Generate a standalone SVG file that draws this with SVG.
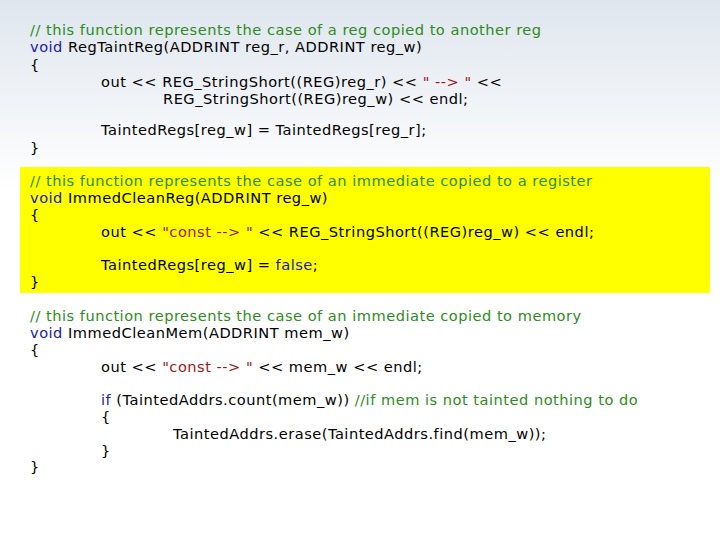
<svg xmlns="http://www.w3.org/2000/svg" width="720" height="540" viewBox="0 0 720 540">
<defs><linearGradient id="bg" x1="0" y1="0" x2="0" y2="1"><stop offset="0" stop-color="#dfe6ee"/><stop offset="0.35" stop-color="#ffffff"/><stop offset="1" stop-color="#ffffff"/></linearGradient></defs>
<style>
text{font-family:"DejaVu Sans",Verdana,sans-serif;font-size:14.6px;letter-spacing:0.5px;fill:#000}
.c{fill:#2e8b22}.k{fill:#1a1aa6}.s{fill:#a31515}
</style>
<rect width="720" height="540" fill="url(#bg)"/>
<rect x="20" y="167" width="690" height="126" fill="#ffff00"/>
<g id="code1">
<text x="30" y="35" class="c">// this function represents the case of a reg copied to another reg</text>
<text x="30" y="52"><tspan class="k">void</tspan> RegTaintReg(ADDRINT reg_r, ADDRINT reg_w)</text>
<text x="30" y="70">{</text>
<text x="101" y="87">out &lt;&lt; REG_StringShort((REG)reg_r) &lt;&lt; <tspan class="s">" --&gt; "</tspan> &lt;&lt;</text>
<text x="163" y="104">REG_StringShort((REG)reg_w) &lt;&lt; endl;</text>
<text x="101" y="135">TaintedRegs[reg_w] = TaintedRegs[reg_r];</text>
<text x="30" y="153">}</text>
</g>
<g id="code2">
<text x="30" y="186" class="c">// this function represents the case of an immediate copied to a register</text>
<text x="30" y="203"><tspan class="k">void</tspan> ImmedCleanReg(ADDRINT reg_w)</text>
<text x="30" y="220">{</text>
<text x="101" y="237">out &lt;&lt; <tspan class="s">"const --&gt; "</tspan> &lt;&lt; REG_StringShort((REG)reg_w) &lt;&lt; endl;</text>
<text x="101" y="270">TaintedRegs[reg_w] = <tspan class="k">false</tspan>;</text>
<text x="30" y="287">}</text>
</g>
<g id="code3">
<text x="30" y="321" class="c">// this function represents the case of an immediate copied to memory</text>
<text x="30" y="338"><tspan class="k">void</tspan> ImmedCleanMem(ADDRINT mem_w)</text>
<text x="30" y="355">{</text>
<text x="101" y="372">out &lt;&lt; <tspan class="s">"const --&gt; "</tspan> &lt;&lt; mem_w &lt;&lt; endl;</text>
<text x="101" y="405"><tspan class="k">if</tspan> (TaintedAddrs.count(mem_w)) <tspan class="c">//if mem is not tainted nothing to do</tspan></text>
<text x="101" y="422">{</text>
<text x="173" y="439">TaintedAddrs.erase(TaintedAddrs.find(mem_w));</text>
<text x="101" y="456">}</text>
<text x="30" y="472">}</text>
</g>
</svg>
